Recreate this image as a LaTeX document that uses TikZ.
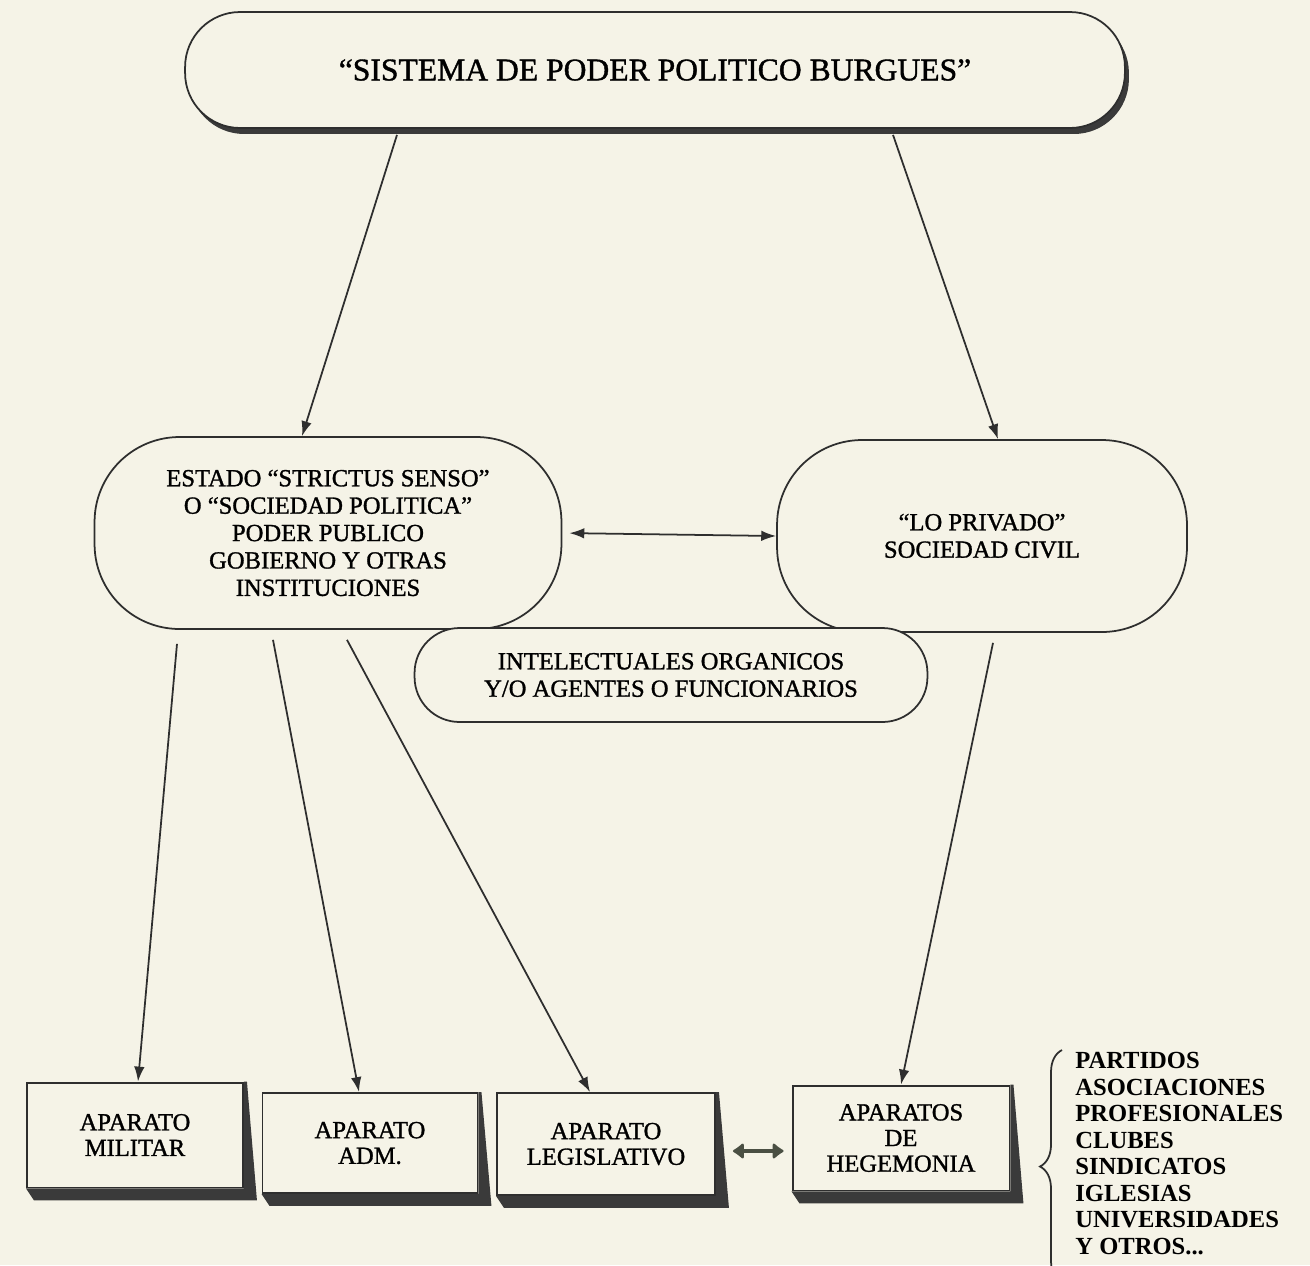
\documentclass[tikz,border=0pt]{standalone}
\usepackage{fontspec}
\setmainfont{Liberation Serif}
\newfontfamily\impreso{Liberation Serif}[FakeBold=1.2]
\usetikzlibrary{arrows.meta,calc,shadows,decorations.pathreplacing}
\definecolor{papel}{HTML}{F5F3E7}
\definecolor{tinta}{HTML}{2E2E2E}
\definecolor{sombra}{HTML}{3A3A3A}
\definecolor{verdoso}{HTML}{4A4F43}

\begin{document}
\begin{tikzpicture}[
    x=0.02cm, y=-0.02cm,
    >={Latex[length=8.5pt,width=6pt]},
    rodeo/.style={
      rectangle, draw=tinta, line width=1pt, fill=papel,
      align=center, inner sep=0pt, text=black,
      font=\impreso\fontsize{14}{15.6}\selectfont,
    },
    titulo/.style={
      rodeo, rounded corners=1.1cm,
      minimum width=18.8cm, minimum height=2.32cm,
      font=\impreso\fontsize{18}{20}\selectfont,
      drop shadow={shadow xshift=0.08cm, shadow yshift=-0.12cm,
        fill=sombra, opacity=1},
    },
    sociedad/.style={rodeo, rounded corners=1.7cm, minimum height=3.84cm},
    intelecto/.style={
      rodeo, rounded corners=0.9cm,
      minimum width=10.26cm, minimum height=1.88cm,
    },
    aparato/.style={
      rectangle, draw=tinta, line width=1.1pt, fill=papel,
      align=center, inner sep=0pt, text=black,
      minimum width=4.32cm, minimum height=2.1cm,
      font=\impreso\fontsize{14}{14.6}\selectfont,
    },
    flecha/.style={->, draw=tinta, line width=1pt},
    dobleflecha/.style={
      {Latex[round,length=7pt,width=11pt]}-{Latex[round,length=7pt,width=11pt]},
      draw=verdoso, line width=2.4pt,
    },
    lista/.style={align=left, inner sep=0pt, text=black,
      font=\fontsize{14}{15.1}\selectfont\bfseries},
  ]

  % --- page ---
  \useasboundingbox (0,0) rectangle (1310,1265);
  \fill[papel] (0,0) rectangle (1310,1265);

  % --- title box ---
  \node[titulo] (sistema) at (655,70)
    {“SISTEMA DE PODER POLITICO BURGUES”};

  % --- the two societies ---
  \node[sociedad, minimum width=9.34cm] (estado) at (328,533)
    {ESTADO “STRICTUS SENSO”\\ O “SOCIEDAD POLITICA”\\ PODER PUBLICO\\
     GOBIERNO Y OTRAS\\ INSTITUCIONES};
  \node[sociedad, minimum width=8.2cm] (privado) at (982,536)
    {“LO PRIVADO”\\ SOCIEDAD CIVIL};
  \node[intelecto] (intelectuales) at (671,675)
    {INTELECTUALES ORGANICOS\\ Y/O AGENTES O FUNCIONARIOS};

  % --- apparatus ---
  \node[aparato] (militar) at (135,1135) {APARATO\\ MILITAR};
  \node[aparato, minimum width=4.3cm, minimum height=2.0cm] (adm) at (370,1143)
    {APARATO\\ ADM.};
  \node[aparato, minimum width=4.36cm, minimum height=2.04cm] (legis) at (606,1144)
    {APARATO\\ LEGISLATIVO};
  \node[aparato, minimum width=4.34cm] (hegem) at (901,1138)
    {APARATOS\\ DE\\ HEGEMONIA};
  \foreach \ap in {militar, adm, legis, hegem} {
    \fill[sombra] (\ap.north east) -- ++(3,0)
      -- ($(\ap.south east)+(13,12)$) -- ($(\ap.south west)+(8,12)$)
      -- (\ap.south west) -- (\ap.south east) -- cycle;
  }

  % --- list of hegemony apparatus ---
  \node[lista, anchor=north west] (lista) at (1075,1052)
    {PARTIDOS\\ ASOCIACIONES\\ PROFESIONALES\\ CLUBES\\ SINDICATOS\\
     IGLESIAS\\ UNIVERSIDADES\\ Y OTROS...};
  \draw[tinta, line width=1pt, decorate,
    decoration={brace, amplitude=0.44cm}]
    ($(lista.south west)+(-13,28)$) -- ($(lista.north west)+(-13,-2)$);

  % --- arrows ---
  \draw[flecha] ($(sistema.south)+(-258,6)$) -- ($(estado.north)+(-26,0)$);
  \draw[flecha] ($(sistema.south)+(238,6)$) -- ($(privado.north)+(16,0)$);
  \draw[flecha, <->, shorten <=0.14cm] (estado.east) -- (privado.west);

  \draw[flecha] ($(estado.south)+(-151,14)$) -- ($(militar.north)+(3,0)$);
  \draw[flecha] ($(estado.south)+(-55,10)$) -- ($(adm.north)+(-11,0)$);
  \draw[flecha] ($(estado.south)+(19,10)$) -- ($(legis.north)+(-16,0)$);
  \draw[flecha] ($(privado.south)+(11,10)$) -- (hegem.north);

  \draw[dobleflecha, shorten <=0.34cm, shorten >=0.16cm]
    ($(legis.east)+(0,7)$) -- ($(hegem.west |- legis.east)+(0,7)$);

\end{tikzpicture}
\end{document}
